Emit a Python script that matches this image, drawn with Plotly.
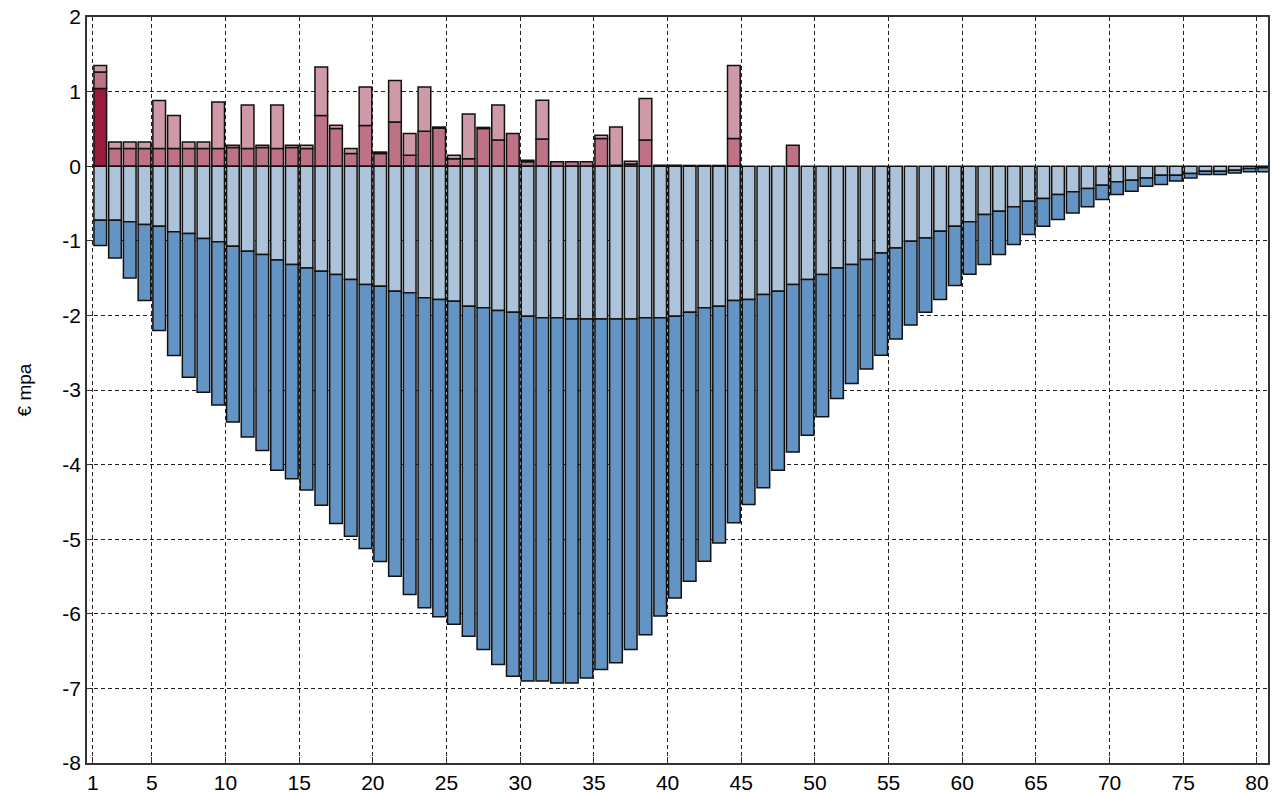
import plotly.graph_objects as go

# Bar index (1..80)
bars = list(range(1, 81))

# Positive stack readings (cumulative tops)
dark_red_top = [1.04] + [0.0] * 79
medium_top = [1.264, 0.237, 0.237, 0.237, 0.237, 0.237, 0.237, 0.237, 0.237, 0.25,
              0.237, 0.25, 0.237, 0.25, 0.237, 0.68, 0.505, 0.17, 0.545, 0.17,
              0.594, 0.147, 0.469, 0.51, 0.10, 0.10, 0.505, 0.35, 0.44, 0.06,
              0.366, 0.058, 0.058, 0.058, 0.37, 0.013, 0.03, 0.35, 0.013, 0.013,
              0.01, 0.01, 0.01, 0.37, 0.0, 0.0, 0.0, 0.28] + [0.0] * 32
light_top = [1.35, 0.326, 0.326, 0.326, 0.88, 0.68, 0.326, 0.326, 0.86, 0.28,
             0.82, 0.28, 0.82, 0.28, 0.28, 1.33, 0.55, 0.237, 1.063, 0.19,
             1.149, 0.438, 1.06, 0.525, 0.147, 0.70, 0.52, 0.82, 0.44, 0.08,
             0.885, 0.058, 0.058, 0.058, 0.415, 0.527, 0.067, 0.907, 0.013, 0.013,
             0.01, 0.01, 0.01, 1.35, 0.0, 0.0, 0.0, 0.28] + [0.0] * 32

# Negative stack readings: light-blue boundary and total bottom
neg_boundary = [-0.724, -0.724, -0.746, -0.782, -0.804, -0.88, -0.903, -0.97, -1.014, -1.072,
                -1.139, -1.184, -1.256, -1.318, -1.363, -1.407, -1.452, -1.519, -1.586, -1.609,
                -1.676, -1.698, -1.765, -1.787, -1.81, -1.877, -1.899, -1.934, -1.957, -2.01,
                -2.03, -2.03, -2.047, -2.047, -2.047, -2.047, -2.047, -2.03, -2.03, -2.01,
                -1.957, -1.899, -1.877, -1.80, -1.787, -1.72, -1.676, -1.586, -1.519, -1.452,
                -1.363, -1.318, -1.251, -1.162, -1.095, -1.005, -0.961, -0.871, -0.804, -0.746,
                -0.648, -0.603, -0.545, -0.469, -0.433, -0.38, -0.344, -0.30, -0.255, -0.21,
                -0.188, -0.157, -0.12, -0.12, -0.098, -0.067, -0.067, -0.054, -0.03, -0.02]
neg_total = [-1.063, -1.229, -1.497, -1.80, -2.203, -2.538, -2.83, -3.03, -3.20, -3.43,
             -3.63, -3.81, -4.075, -4.19, -4.34, -4.544, -4.79, -4.96, -5.125, -5.30,
             -5.496, -5.74, -5.92, -6.04, -6.14, -6.30, -6.48, -6.68, -6.836, -6.90,
             -6.90, -6.926, -6.926, -6.86, -6.747, -6.657, -6.48, -6.28, -6.03, -5.787,
             -5.563, -5.295, -5.05, -4.78, -4.535, -4.31, -4.075, -3.83, -3.606, -3.36,
             -3.114, -2.913, -2.717, -2.534, -2.315, -2.13, -1.957, -1.787, -1.60, -1.45,
             -1.318, -1.184, -1.05, -0.916, -0.804, -0.715, -0.626, -0.545, -0.447, -0.38,
             -0.335, -0.268, -0.246, -0.2, -0.157, -0.11, -0.11, -0.09, -0.076, -0.076]

x_ticks = [1, 5, 10, 15, 20, 25, 30, 35, 40, 45, 50, 55, 60, 65, 70, 75, 80]
y_ticks = [2, 1, 0, -1, -2, -3, -4, -5, -6, -7, -8]


def nz(v):
    return [None if abs(a) < 1e-9 else a for a in v]


dark_seg = nz(dark_red_top)
med_seg = nz([max(m - d, 0) for m, d in zip(medium_top, dark_red_top)])
light_seg = nz([max(l - m, 0) for l, m in zip(light_top, medium_top)])
lb_seg = nz(neg_boundary)
db_seg = nz([t - b for t, b in zip(neg_total, neg_boundary)])

xpos = [b + 0.5 for b in bars]
W = 0.86
line = dict(color="#111111", width=1.5)

fig = go.Figure()
for seg, col in [(dark_seg, "#9a1c3c"), (med_seg, "#bd7285"), (light_seg, "#cf9aa8"),
                 (lb_seg, "#adc3d9"), (db_seg, "#6394c4")]:
    fig.add_trace(go.Bar(x=xpos, y=seg, width=W, marker=dict(color=col, line=line),
                         showlegend=False))

fig.update_layout(
    barmode="relative",
    width=1274, height=793,
    margin=dict(l=87, r=6, t=17, b=30),
    plot_bgcolor="white", paper_bgcolor="white",
    font=dict(family="Liberation Sans, Arial, sans-serif", size=21, color="black"),
)
fig.update_xaxes(
    range=[0.6, 80.75], tickvals=x_ticks, ticktext=[str(t) for t in x_ticks],
    tickfont=dict(size=21), automargin=False, ticklabeloverflow="allow",
    showgrid=True, gridcolor="#222222", griddash="4px,3px", gridwidth=1,
    showline=True, linecolor="#333333", linewidth=1.5, mirror=True,
    ticks="inside", ticklen=6, tickcolor="#333333", zeroline=False,
)
fig.update_yaxes(
    range=[-8, 2], tickvals=y_ticks, ticktext=[str(t) for t in y_ticks],
    tickfont=dict(size=21), automargin=False, ticklabeloverflow="allow",
    showgrid=True, gridcolor="#222222", griddash="4px,3px", gridwidth=1,
    showline=True, linecolor="#333333", linewidth=1.5, mirror=True,
    ticks="inside", ticklen=6, tickcolor="#333333", zeroline=False,
    title=dict(text="€ mpa", font=dict(size=19), standoff=26),
)
fig.write_html("out.html",
               config={"displayModeBar": False},
               post_script="document.body.style.margin='0px';document.body.style.overflow='hidden';")
